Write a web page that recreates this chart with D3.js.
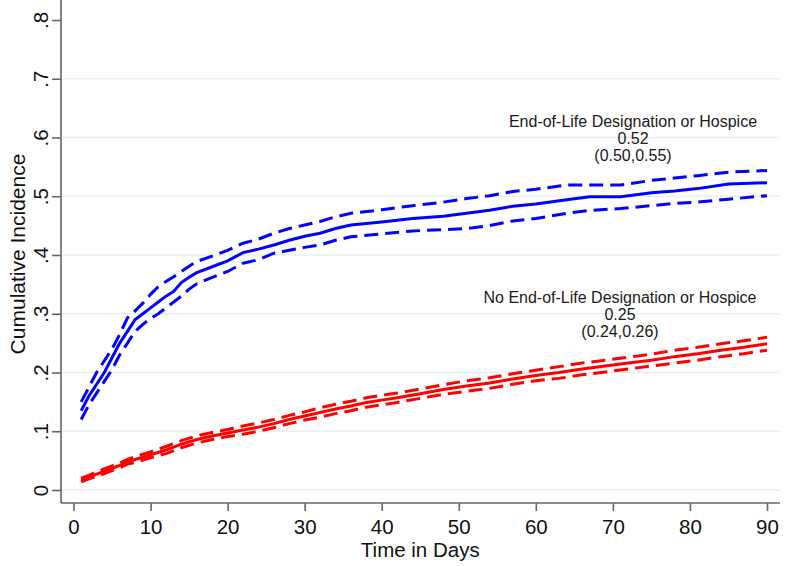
<!DOCTYPE html>
<html><head><meta charset="utf-8">
<script src="https://cdn.jsdelivr.net/npm/d3@7"></script>
<style>body{margin:0;background:#fff}svg{display:block}text{font-family:Arial,"Liberation Sans",sans-serif}</style>
</head><body><svg id="c" width="789" height="566"></svg>
<script>
// Blue: End-of-Life Designation or Hospice
const eolDays  = [1,2,3,4,5,6,7,8,9,10,11,12,13,14,15,16,18,20,22,24,26,28,30,32,34,36,40,44,48,51,54,57,60,64,67,71,75,78,81,85,90];
const eolEst   = [0.135,0.16,0.18,0.2,0.225,0.25,0.27,0.29,0.3,0.31,0.32,0.33,0.338,0.353,0.362,0.37,0.38,0.39,0.404,0.41,0.417,0.425,0.432,0.437,0.445,0.451,0.456,0.462,0.466,0.471,0.476,0.483,0.487,0.494,0.499,0.499,0.506,0.509,0.513,0.521,0.523];
const eolUpper = [0.15,0.175,0.2,0.22,0.24,0.265,0.293,0.305,0.318,0.333,0.346,0.355,0.363,0.372,0.381,0.389,0.398,0.408,0.42,0.427,0.437,0.445,0.451,0.457,0.465,0.471,0.477,0.484,0.49,0.496,0.501,0.508,0.512,0.519,0.519,0.519,0.527,0.531,0.535,0.541,0.544];
const eolLower = [0.12,0.145,0.165,0.185,0.205,0.23,0.25,0.27,0.282,0.292,0.3,0.31,0.32,0.33,0.342,0.351,0.362,0.372,0.386,0.392,0.403,0.408,0.413,0.417,0.425,0.431,0.436,0.441,0.443,0.445,0.45,0.458,0.462,0.471,0.476,0.479,0.484,0.488,0.49,0.495,0.501];
// Red: No End-of-Life Designation or Hospice
const noDays  = [1,2,3,4,5,6,7,8,10,12,14,16,18,20,22,24,26,28,30,32,34,36,38,40,42,45,48,51,54,57,60,63,66,69,72,75,78,81,84,87,90];
const noEst   = [0.017,0.022,0.027,0.032,0.037,0.042,0.048,0.052,0.06,0.068,0.078,0.086,0.092,0.097,0.102,0.107,0.113,0.12,0.126,0.132,0.138,0.143,0.149,0.153,0.157,0.164,0.171,0.177,0.182,0.189,0.195,0.2,0.206,0.211,0.216,0.221,0.227,0.232,0.238,0.243,0.249];
const noUpper = [0.02,0.025,0.031,0.036,0.041,0.046,0.052,0.057,0.065,0.074,0.084,0.092,0.098,0.103,0.109,0.114,0.12,0.127,0.133,0.14,0.146,0.151,0.157,0.161,0.165,0.172,0.179,0.186,0.191,0.198,0.204,0.21,0.216,0.221,0.226,0.231,0.238,0.243,0.249,0.254,0.26];
const noLower = [0.014,0.019,0.023,0.028,0.033,0.038,0.044,0.047,0.055,0.062,0.072,0.08,0.086,0.091,0.095,0.1,0.106,0.113,0.119,0.124,0.13,0.135,0.141,0.145,0.149,0.156,0.163,0.168,0.173,0.18,0.186,0.19,0.196,0.201,0.206,0.211,0.216,0.221,0.227,0.232,0.238];

const xTicks = [0,10,20,30,40,50,60,70,80,90];
const yTicks = [0,0.1,0.2,0.3,0.4,0.5,0.6,0.7,0.8];
const yTickLabels = ["0",".1",".2",".3",".4",".5",".6",".7",".8"];
const gridTicks = [0,0.1,0.2,0.3,0.4,0.5,0.6,0.7];
const annotations = [
  {lines:["End-of-Life Designation or Hospice","0.52","(0.50,0.55)"], day:90, value:0.523},
  {lines:["No End-of-Life Designation or Hospice","0.25","(0.24,0.26)"], day:90, value:0.249}
];

const svg = d3.select("#c");
const x = d3.scaleLinear().domain([0,90]).range([73.5,767]);
const y = d3.scaleLinear().domain([0,0.8]).range([490,20]);
const axisLeft = 61, axisBottom = 503, plotRight = 780;

// gridlines
svg.append("g").selectAll("line").data(gridTicks).join("line")
  .attr("x1",axisLeft+1).attr("x2",plotRight)
  .attr("y1",d=>y(d)).attr("y2",d=>y(d))
  .attr("stroke","#e9f0f1").attr("stroke-width",1.6);

// y axis
const ya = svg.append("g").attr("transform",`translate(${axisLeft},0)`)
  .call(d3.axisLeft(y).tickValues(yTicks).tickSize(9).tickFormat((d,i)=>yTickLabels[i]));
ya.select(".domain").attr("d",`M0,0V${axisBottom}`).attr("stroke","#666").attr("stroke-width",1.6);
ya.selectAll(".tick line").attr("stroke","#666").attr("stroke-width",1.6);
ya.selectAll(".tick text").attr("font-size",20.5).attr("fill","#111")
  .attr("x",null).attr("dy",null).attr("text-anchor","middle")
  .attr("transform","translate(-21,0) rotate(-90)").attr("dominant-baseline","central");

// x axis
const xa = svg.append("g").attr("transform",`translate(0,${axisBottom})`)
  .call(d3.axisBottom(x).tickValues(xTicks).tickSize(8).tickPadding(8));
xa.select(".domain").attr("d",`M${axisLeft},0H${plotRight}`).attr("stroke","#666").attr("stroke-width",1.6);
xa.selectAll(".tick line").attr("stroke","#666").attr("stroke-width",1.6);
xa.selectAll(".tick text").attr("font-size",20.5).attr("fill","#111");

// axis titles
svg.append("text").attr("x",x(45)).attr("y",557).attr("text-anchor","middle")
  .attr("font-size",20.5).attr("fill","#111").text("Time in Days");
svg.append("text").attr("transform","translate(25,254) rotate(-90)").attr("text-anchor","middle")
  .attr("font-size",21).attr("fill","#111").text("Cumulative Incidence");

// lines
const line = (days)=>d3.line().x((d,i)=>x(days[i])).y(d=>y(d)).curve(d3.curveLinear);
const series = [
  {days:eolDays, vals:eolUpper, color:"#0000ff", dash:"14,7"},
  {days:eolDays, vals:eolLower, color:"#0000ff", dash:"14,7"},
  {days:eolDays, vals:eolEst, color:"#0000ff", dash:null},
  {days:noDays, vals:noUpper, color:"#ff0000", dash:"14,7"},
  {days:noDays, vals:noLower, color:"#ff0000", dash:"14,7"},
  {days:noDays, vals:noEst, color:"#ff0000", dash:null}
];
svg.append("g").selectAll("path").data(series).join("path")
  .attr("d",s=>line(s.days)(s.vals)).attr("fill","none")
  .attr("stroke",s=>s.color).attr("stroke-width",3)
  .attr("stroke-dasharray",s=>s.dash);

// annotations
const ann = svg.append("g");
annotations.forEach((a,k)=>{
  const g = ann.append("g");
  const cx = k===0 ? 633 : 620;
  const y0 = k===0 ? 127 : 303;
  a.lines.forEach((t,i)=>{
    g.append("text").attr("x",cx).attr("y",y0+i*17).attr("text-anchor","middle")
     .attr("font-size",16).attr("fill","#1a1a1a").text(t);
  });
});
</script></body></html>
